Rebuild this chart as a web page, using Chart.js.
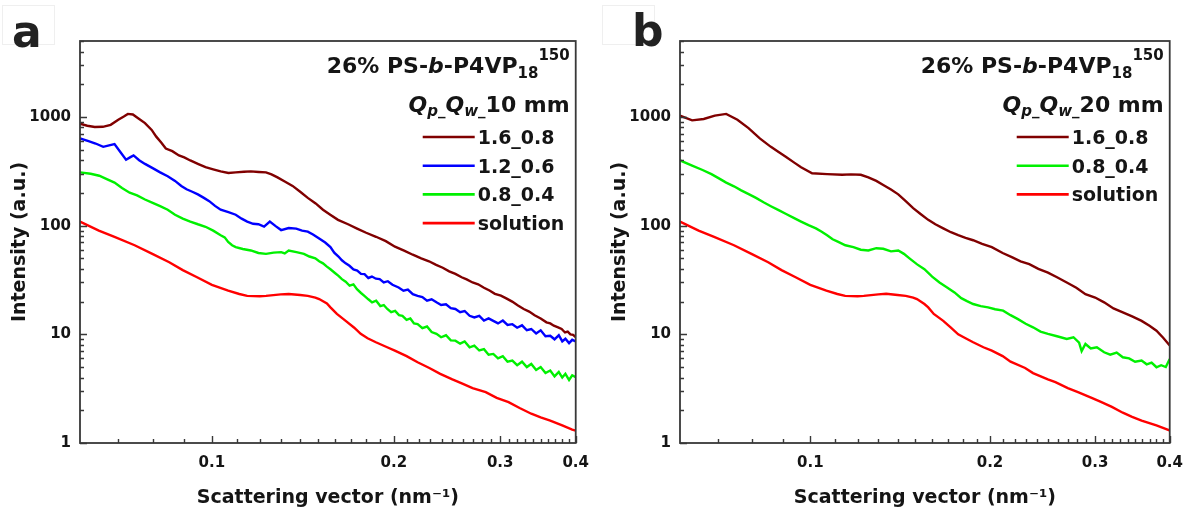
<!DOCTYPE html>
<html><head><meta charset="utf-8">
<script src="https://cdn.jsdelivr.net/npm/chart.js@4/dist/chart.umd.min.js"></script>
<style>
html,body{margin:0;padding:0;background:#fff;}
#wrap{position:relative;width:1194px;height:513px;overflow:hidden;background:#fff;}
.panel{position:absolute;top:0;height:513px;}
#pa{left:0;width:600px;}
#pb{left:600px;width:594px;}
.letter{position:absolute;font-family:'DejaVu Sans',sans-serif;font-weight:bold;font-size:44px;line-height:44px;color:#222;}
.lbox{position:absolute;border:1px solid #efefef;}
</style></head>
<body><div id="wrap">
<div class="lbox" style="left:2px;top:5px;width:51px;height:38px;"></div>
<div class="lbox" style="left:602px;top:5px;width:51px;height:38px;"></div>
<div class="panel" id="pa"><canvas id="ca" width="600" height="513"></canvas></div>
<div class="panel" id="pb"><canvas id="cb" width="594" height="513"></canvas></div>
<div class="letter" style="left:12px;top:10px;">a</div>
<div class="letter" style="left:632px;top:9px;">b</div>
</div>
<script>
// ---------- axis settings / tick labels ----------
const X_MIN = 0.0605, X_MAX = 0.4;
const Y_MIN = 1, Y_MAX = 5000;
const xMajorTicks = [0.1, 0.2, 0.3, 0.4];
const xMajorLabels = ['0.1', '0.2', '0.3', '0.4'];
const yMajorTicks = [1, 10, 100, 1000];
const yMajorLabels = ['1', '10', '100', '1000'];
const xTitle = 'Scattering vector (nm\u207B\u00B9)';
const yTitle = 'Intensity (a.u.)';
const panelAQ = '10 mm';
const panelBQ = '20 mm';
const seriesColors = ['#800000', '#0000ff', '#00f000', '#ff0000'];

// ---------- panel a : Qp_Qw_10 mm ----------
const qA_16 = [0.0605,0.0622,0.0640,0.0660,0.0680,0.0700,0.0715,0.0726,0.0740,0.0755,0.0775,0.0795,0.0809,0.0825,0.0839,0.0860,0.0882,0.0900,0.0921,0.0950,0.0976,0.1005,0.1034,0.1065,0.1095,0.1130,0.1160,0.1195,0.1229,0.1255,0.1284,0.1320,0.1360,0.1400,0.1441,0.1485,0.1527,0.1570,0.1617,0.1680,0.1739,0.1800,0.1869,0.1940,0.2009,0.2080,0.2150,0.2220,0.2287,0.2350,0.2410,0.2470,0.2529,0.2590,0.2640,0.2700,0.2758,0.2820,0.2880,0.2940,0.3008,0.3070,0.3140,0.3210,0.3281,0.3350,0.3420,0.3500,0.3578,0.3630,0.3680,0.3740,0.3791,0.3840,0.3880,0.3920,0.3960,0.4000];
const IA_16 = [866,830,808,812,847,944,1010,1067,1055,975,878,760,659,580,512,485,443,425,398,368,345,330,316,305,309,313,316,312,309,296,278,255,232,205,180,160,140,126,113,103,94,86,79,72,64,59,54,50,47,43.5,41,38,36,33.5,32,30,28.9,26.8,25.3,23.6,22.7,21.4,20.0,18.4,17.1,16.2,15.0,14.0,12.9,12.6,12.0,11.6,11.2,10.4,10.6,10.0,9.9,9.4];

const qA_12 = [0.0605,0.0625,0.0642,0.0661,0.0676,0.0690,0.0705,0.0721,0.0732,0.0742,0.0758,0.0775,0.0798,0.0821,0.0845,0.0869,0.0890,0.0908,0.0928,0.0948,0.0970,0.0990,0.1012,0.1034,0.1065,0.1095,0.1120,0.1144,0.1170,0.1194,0.1220,0.1247,0.1275,0.1302,0.1340,0.1379,0.1410,0.1441,0.1470,0.1505,0.1540,0.1571,0.1594,0.1620,0.1641,0.1665,0.1689,0.1715,0.1740,0.1765,0.1789,0.1815,0.1840,0.1868,0.1895,0.1925,0.1955,0.1990,0.2037,0.2075,0.2110,0.2150,0.2190,0.2230,0.2270,0.2310,0.2353,0.2395,0.2440,0.2485,0.2529,0.2575,0.2620,0.2670,0.2718,0.2770,0.2820,0.2870,0.2922,0.2975,0.3030,0.3085,0.3142,0.3200,0.3260,0.3320,0.3377,0.3440,0.3500,0.3565,0.3630,0.3690,0.3750,0.3800,0.3846,0.3900,0.3947,0.4000];
const IA_12 = [635,600,570,531,548,562,478,404,425,443,400,370,338,309,285,258,232,216,205,194,180,168,152,140,133,126,116,109,104,103,98,109,99,91,95,94,90,88,83,76,70,63.5,56.5,52,48,45,42.7,39.5,38.5,36.0,35.8,33.0,34.0,32.5,32.2,30.0,30.8,28.6,27.0,25.2,25.8,23.4,22.6,22.0,20.4,21.0,19.7,18.6,18.9,17.4,17.1,16.0,16.4,14.8,14.3,14.8,13.4,14.0,13.3,12.6,13.4,12.2,12.4,11.5,12.1,10.9,11.2,10.2,10.9,9.6,9.7,9.0,9.8,8.6,9.1,8.3,8.9,8.6];

const qA_08 = [0.0605,0.0630,0.0651,0.0670,0.0690,0.0710,0.0731,0.0752,0.0775,0.0798,0.0821,0.0845,0.0869,0.0895,0.0921,0.0948,0.0976,0.1005,0.1034,0.1050,0.1064,0.1080,0.1095,0.1125,0.1160,0.1194,0.1229,0.1265,0.1302,0.1320,0.1340,0.1380,0.1420,0.1450,0.1483,0.1505,0.1527,0.1550,0.1571,0.1600,0.1620,0.1641,0.1665,0.1690,0.1715,0.1738,0.1765,0.1790,0.1815,0.1841,0.1870,0.1900,0.1925,0.1951,0.1980,0.2010,0.2040,0.2067,0.2100,0.2130,0.2160,0.2190,0.2230,0.2270,0.2310,0.2353,0.2395,0.2440,0.2485,0.2529,0.2575,0.2620,0.2670,0.2718,0.2770,0.2820,0.2870,0.2922,0.2975,0.3030,0.3085,0.3142,0.3200,0.3260,0.3320,0.3377,0.3440,0.3500,0.3565,0.3630,0.3690,0.3750,0.3800,0.3846,0.3900,0.3947,0.4000];
const IA_08 = [309,300,288,268,249,222,201,190,174,162,151,140,126,116,109,103,97.7,90,81.7,78,70.8,66,63.5,61,59.1,56,55,56.5,57,55.5,59,57,55,52,50,47,45,42,39.7,36.5,34.5,32.2,30.5,28.0,28.8,26,24.0,22.5,21.0,19.7,20.4,18.2,18.6,17.1,16.0,16.4,15.0,14.8,13.6,14.0,12.6,12.4,11.4,11.8,10.5,10.1,9.4,9.8,8.8,8.75,8.2,8.6,7.6,7.87,7.1,7.3,6.5,6.6,6.0,6.3,5.6,5.73,5.2,5.6,5.0,5.34,4.7,5.0,4.4,4.64,4.1,4.5,4.0,4.33,3.8,4.2,4.03];

const qA_sol = [0.0605,0.0650,0.0690,0.0745,0.0797,0.0850,0.0895,0.0945,0.1000,0.1064,0.1110,0.1144,0.1200,0.1229,0.1300,0.1340,0.1400,0.1441,0.1483,0.1505,0.1550,0.1571,0.1610,0.1665,0.1720,0.1763,0.1810,0.1868,0.1950,0.2008,0.2100,0.2190,0.2290,0.2387,0.2500,0.2603,0.2700,0.2839,0.2960,0.3097,0.3230,0.3377,0.3500,0.3630,0.3800,0.3947,0.4000];
const IA_sol = [109,90,78.8,66,55,46,39,33.5,28.5,25.2,23.5,22.6,22.4,22.6,23.3,23.5,23.0,22.6,21.8,21.1,19.2,17.7,15.4,13.3,11.5,10.1,9.2,8.45,7.6,7.08,6.3,5.53,4.9,4.33,3.85,3.5,3.2,2.94,2.6,2.38,2.1,1.86,1.72,1.61,1.45,1.33,1.30];

// ---------- panel b : Qp_Qw_20 mm ----------
const qB_16 = [0.0605,0.0634,0.0663,0.0692,0.0723,0.0755,0.0788,0.0823,0.0859,0.0885,0.0911,0.0940,0.0965,0.1007,0.1067,0.1131,0.1170,0.1215,0.1251,0.1290,0.1325,0.1365,0.1404,0.1445,0.1487,0.1530,0.1576,0.1620,0.1670,0.1720,0.1769,0.1820,0.1874,0.1940,0.2014,0.2100,0.2180,0.2250,0.2327,0.2410,0.2501,0.2590,0.2689,0.2790,0.2890,0.3000,0.3106,0.3220,0.3338,0.3460,0.3589,0.3700,0.3801,0.3900,0.4000];
const IB_16 = [1029,930,958,1029,1067,944,789,635,531,475,428,380,345,303,298,294,296,294,278,258,237,215,194,168,145,128,113,103,94.4,87,81.7,77,73.4,68,63.5,56,51,47,44.2,40,37,33.5,30,26.8,23.4,21.8,19.7,17.3,15.9,14.6,13.3,12.0,10.8,9.3,7.9];

const qB_08 = [0.0605,0.0634,0.0660,0.0683,0.0703,0.0723,0.0745,0.0766,0.0790,0.0811,0.0835,0.0859,0.0885,0.0911,0.0938,0.0965,0.0993,0.1022,0.1045,0.1067,0.1090,0.1114,0.1145,0.1181,0.1215,0.1251,0.1290,0.1325,0.1365,0.1404,0.1435,0.1466,0.1510,0.1553,0.1600,0.1646,0.1695,0.1744,0.1790,0.1830,0.1874,0.1930,0.1985,0.2040,0.2104,0.2165,0.2228,0.2295,0.2361,0.2430,0.2501,0.2590,0.2689,0.2760,0.2820,0.2848,0.2890,0.2950,0.3020,0.3106,0.3180,0.3260,0.3338,0.3420,0.3500,0.3589,0.3660,0.3730,0.3801,0.3870,0.3940,0.4000];
const IB_08 = [398,357,325,298,272,249,230,211,194,180,164,151,139,128,118,109,101,94.4,88,81.7,75,70.8,66,63.5,60,59.1,62,61.3,58,59.1,55,50,44,39.7,34,30,27,24.3,21.5,20.2,19,18.2,17.7,17.0,16.5,15.0,13.8,12.5,11.6,10.6,10.1,9.6,9.06,9.4,8.4,7.0,8.15,7.4,7.6,6.84,6.5,6.8,6.15,6.0,5.6,5.73,5.3,5.5,4.98,5.2,5.0,5.94];

const qB_sol = [0.0605,0.0650,0.0690,0.0745,0.0797,0.0850,0.0895,0.0945,0.1000,0.1064,0.1110,0.1144,0.1200,0.1229,0.1300,0.1340,0.1400,0.1445,0.1487,0.1509,0.1553,0.1576,0.1610,0.1670,0.1720,0.1769,0.1820,0.1874,0.1950,0.2014,0.2100,0.2165,0.2290,0.2361,0.2500,0.2574,0.2700,0.2808,0.2960,0.3061,0.3200,0.3338,0.3460,0.3589,0.3800,0.3996,0.4000];
const IB_sol = [109,90,78.8,66,55,46,39,33.5,28.5,25.2,23.5,22.6,22.4,22.6,23.3,23.6,23.0,22.6,21.8,21.1,19.0,17.7,15.4,13.3,11.5,10.0,9.2,8.45,7.6,7.08,6.3,5.6,4.9,4.4,3.85,3.63,3.2,2.94,2.6,2.4,2.15,1.9,1.74,1.61,1.45,1.31,1.30];

const labelsA = ['1.6_0.8', '1.2_0.6', '0.8_0.4', 'solution'];
const labelsB = ['1.6_0.8', '0.8_0.4', 'solution'];

// ---------- helpers ----------
const FONT = "'DejaVu Sans', 'Liberation Sans', sans-serif";
const TXT = '#151515';
const near = (a, b) => Math.abs(a - b) < 1e-9 * Math.max(1, Math.abs(b));
function idxIn(arr, v) { for (let i = 0; i < arr.length; i++) if (near(arr[i], v)) return i; return -1; }

// minor tick positions (decades x 1..9)
function decadeTicks(min, max) {
  const out = [];
  for (let e = Math.floor(Math.log10(min)) - 1; e <= Math.ceil(Math.log10(max)); e++) {
    for (let m = 1; m < 10; m++) {
      const v = Number((m * Math.pow(10, e)).toPrecision(6));
      if (v >= min - 1e-12 && v <= max + 1e-12) out.push(v);
    }
  }
  return out;
}
function xTickList() {
  const out = [];
  for (let k = 7; k <= 40; k++) out.push(k / 100);
  return out;
}

const frameTicks = {
  id: 'frameTicks',
  afterDatasetsDraw(chart) {
    const { ctx, chartArea: a } = chart;
    const xs = chart.scales.x, ys = chart.scales.y;
    ctx.save();
    ctx.strokeStyle = '#383838';
    ctx.lineWidth = 1.4;
    ctx.beginPath();
    xs.ticks.forEach(t => {
      const px = Math.round(xs.getPixelForValue(t.value)) + 0.5;
      const L = idxIn(xMajorTicks, t.value) >= 0 ? 7 : 4;
      ctx.moveTo(px, a.bottom); ctx.lineTo(px, a.bottom - L);
    });
    ys.ticks.forEach(t => {
      const py = Math.round(ys.getPixelForValue(t.value)) + 0.5;
      const L = idxIn(yMajorTicks, t.value) >= 0 ? 7 : 4;
      ctx.moveTo(a.left, py); ctx.lineTo(a.left + L, py);
    });
    ctx.stroke();
    ctx.lineWidth = 1.8;
    ctx.strokeRect(a.left, a.top, a.right - a.left, a.bottom - a.top);
    ctx.restore();
  }
};

function drawRuns(ctx, runs, rightX, baseY) {
  let total = 0;
  runs.forEach(r => {
    ctx.font = (r.it ? 'italic ' : '') + 'bold ' + r.s + 'px ' + FONT;
    r.w = ctx.measureText(r.t).width;
    total += r.w;
  });
  let x = rightX - total;
  runs.forEach(r => {
    ctx.font = (r.it ? 'italic ' : '') + 'bold ' + r.s + 'px ' + FONT;
    ctx.fillText(r.t, x, baseY + (r.dy || 0));
    x += r.w;
  });
}

const annotate = {
  id: 'annotate',
  afterDraw(chart, args, opts) {
    const { ctx, chartArea: a } = chart;
    ctx.save();
    ctx.fillStyle = TXT;
    ctx.textBaseline = 'alphabetic';
    ctx.textAlign = 'left';
    const R = a.right - 6;
    drawRuns(ctx, [
      { t: '26% PS-', s: 22 }, { t: 'b', s: 22, it: true }, { t: '-P4VP', s: 22 },
      { t: '18', s: 15, dy: 5 }, { t: '150', s: 15, dy: -13 }
    ], R, a.top + 32);
    drawRuns(ctx, [
      { t: 'Q', s: 22, it: true }, { t: 'p', s: 15, it: true, dy: 4 }, { t: '_', s: 15, dy: 3 },
      { t: 'Q', s: 22, it: true }, { t: 'w', s: 15, it: true, dy: 4 }, { t: '_', s: 15, dy: 3 },
      { t: opts.qText, s: 22 }
    ], R, a.top + 71);
    // legend from datasets
    chart.data.datasets.forEach((ds, i) => {
      const y = a.top + 96 + i * 28.7;
      ctx.strokeStyle = ds.borderColor;
      ctx.lineWidth = 2.6;
      ctx.beginPath();
      ctx.moveTo(a.right - 153, y); ctx.lineTo(a.right - 101, y);
      ctx.stroke();
      ctx.font = 'bold 19px ' + FONT;
      ctx.fillStyle = TXT;
      ctx.fillText(ds.label, a.right - 98, y + 7);
    });
    ctx.restore();
  }
};

function makeChart(id, qs, Is, labels, colors, qText, padRight) {
  const datasets = labels.map((lab, i) => ({
    label: lab,
    data: qs[i].map((q, k) => ({ x: q, y: Is[i][k] })),
    borderColor: colors[i],
    backgroundColor: colors[i],
    borderWidth: 2.4,
    pointRadius: 0,
    tension: 0,
    fill: false
  }));
  const tickFont = { family: FONT, size: 15, weight: 'bold' };
  const titleFont = { family: FONT, size: 19, weight: 'bold' };
  return new Chart(document.getElementById(id), {
    type: 'line',
    data: { datasets },
    plugins: [frameTicks, annotate],
    options: {
      responsive: false,
      animation: false,
      devicePixelRatio: 1,
      layout: { padding: { left: 0, right: padRight, top: 41, bottom: 4 } },
      plugins: { legend: { display: false }, tooltip: { enabled: false }, annotate: { qText } },
      scales: {
        x: {
          type: 'logarithmic', position: 'bottom', min: X_MIN, max: X_MAX,
          afterBuildTicks: s => { s.ticks = xTickList().map(v => ({ value: v })); },
          afterFit: s => { s.height = 66; },
          grid: { display: false, drawTicks: false }, border: { display: false },
          ticks: {
            autoSkip: false, maxRotation: 0, minRotation: 0, padding: 11, color: TXT, font: tickFont,
            callback: v => { const i = idxIn(xMajorTicks, v); return i >= 0 ? xMajorLabels[i] : ''; }
          },
          title: { display: true, text: xTitle, color: TXT, font: titleFont, padding: { top: 0, bottom: 0 } }
        },
        y: {
          type: 'logarithmic', position: 'left', min: Y_MIN, max: Y_MAX,
          afterBuildTicks: s => { s.ticks = decadeTicks(Y_MIN, Y_MAX).map(v => ({ value: v })); },
          afterFit: s => { s.width = 80; },
          grid: { display: false, drawTicks: false }, border: { display: false },
          ticks: {
            autoSkip: false, padding: 9, color: TXT, font: tickFont,
            callback: v => { const i = idxIn(yMajorTicks, v); return i >= 0 ? yMajorLabels[i] : ''; }
          },
          title: { display: true, text: yTitle, color: TXT, font: titleFont, padding: { top: 9, bottom: 0 } }
        }
      }
    }
  });
}

makeChart('ca', [qA_16, qA_12, qA_08, qA_sol], [IA_16, IA_12, IA_08, IA_sol], labelsA,
  [seriesColors[0], seriesColors[1], seriesColors[2], seriesColors[3]], panelAQ, 19);
makeChart('cb', [qB_16, qB_08, qB_sol], [IB_16, IB_08, IB_sol], labelsB,
  [seriesColors[0], seriesColors[2], seriesColors[3]], panelBQ, 13);
</script></body></html>
